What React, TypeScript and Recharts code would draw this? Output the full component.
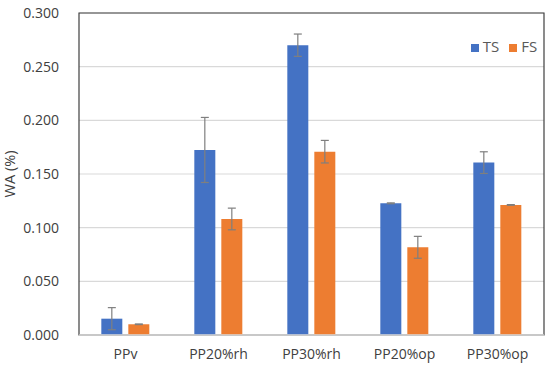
import {
  BarChart,
  Bar,
  XAxis,
  YAxis,
  CartesianGrid,
  ErrorBar,
  Legend,
  ReferenceArea,
} from 'recharts'

const samples = ['PPv', 'PP20%rh', 'PP30%rh', 'PP20%op', 'PP30%op']
const tsValues = [0.0152, 0.1724, 0.27, 0.1227, 0.1606]
const tsErrors = [0.0103, 0.0303, 0.0104, 0.0004, 0.0101]
const fsValues = [0.01, 0.1081, 0.1708, 0.0817, 0.1212]
const fsErrors = [0.0003, 0.0101, 0.0105, 0.0102, 0.0003]
const yTicks = [0, 0.05, 0.1, 0.15, 0.2, 0.25, 0.3]
const seriesOrder = ['TS', 'FS']

const data = samples.map((s, i) => ({
  name: s,
  TS: tsValues[i],
  tsErr: tsErrors[i],
  FS: fsValues[i],
  fsErr: fsErrors[i],
}))

const font = '"Open Sans", sans-serif'
const textColor = '#404040'

export default function App() {
  return (
    <div style={{ position: 'absolute', left: 0, top: 0, fontFamily: font }}>
      <BarChart
        width={550}
        height={367}
        data={data}
        margin={{ top: 13, right: 6, bottom: 0, left: 0 }}
        barCategoryGap="24%"
        barGap={6}
      >
        <CartesianGrid vertical={false} stroke="#d9d9d9" strokeWidth={1.2} />
        {/* plot area frame */}
        <ReferenceArea y1={0} y2={0.3} fill="none" stroke="#404040" strokeWidth={1.2} fillOpacity={0} />
        <XAxis
          dataKey="name"
          height={32}
          tickLine={false}
          axisLine={{ stroke: '#d9d9d9', strokeWidth: 1.4 }}
          tick={{ fill: textColor, fontSize: 14, fontFamily: font }}
          tickMargin={8}
        />
        <YAxis
          width={79}
          domain={[0, 0.3]}
          ticks={yTicks}
          tickFormatter={(v: number) => v.toFixed(3)}
          tickLine={false}
          axisLine={false}
          tick={{ fill: textColor, fontSize: 14, fontFamily: font }}
          tickMargin={14}
          label={{
            value: 'WA (%)',
            angle: -90,
            position: 'insideLeft',
            offset: 10,
            style: { textAnchor: 'middle', fill: textColor, fontSize: 14.5, fontFamily: font },
          }}
        />
        <Legend
          layout="horizontal"
          verticalAlign="middle"
          iconType="square"
          iconSize={8}
          itemSorter={(item: any) => seriesOrder.indexOf(item.dataKey)}
          wrapperStyle={{
            position: 'absolute',
            top: 36,
            left: 464,
            width: 90,
            fontSize: 15,
            fontFamily: font,
          }}
          formatter={(value: string) => <span style={{ color: '#595959' }}>{value}</span>}
        />
        <Bar dataKey="TS" fill="#4472C4" isAnimationActive={false}>
          <ErrorBar dataKey="tsErr" width={4} stroke="#7f7f7f" strokeWidth={1.2} />
        </Bar>
        <Bar dataKey="FS" fill="#ED7D31" isAnimationActive={false}>
          <ErrorBar dataKey="fsErr" width={4} stroke="#7f7f7f" strokeWidth={1.2} />
        </Bar>
      </BarChart>
    </div>
  )
}
